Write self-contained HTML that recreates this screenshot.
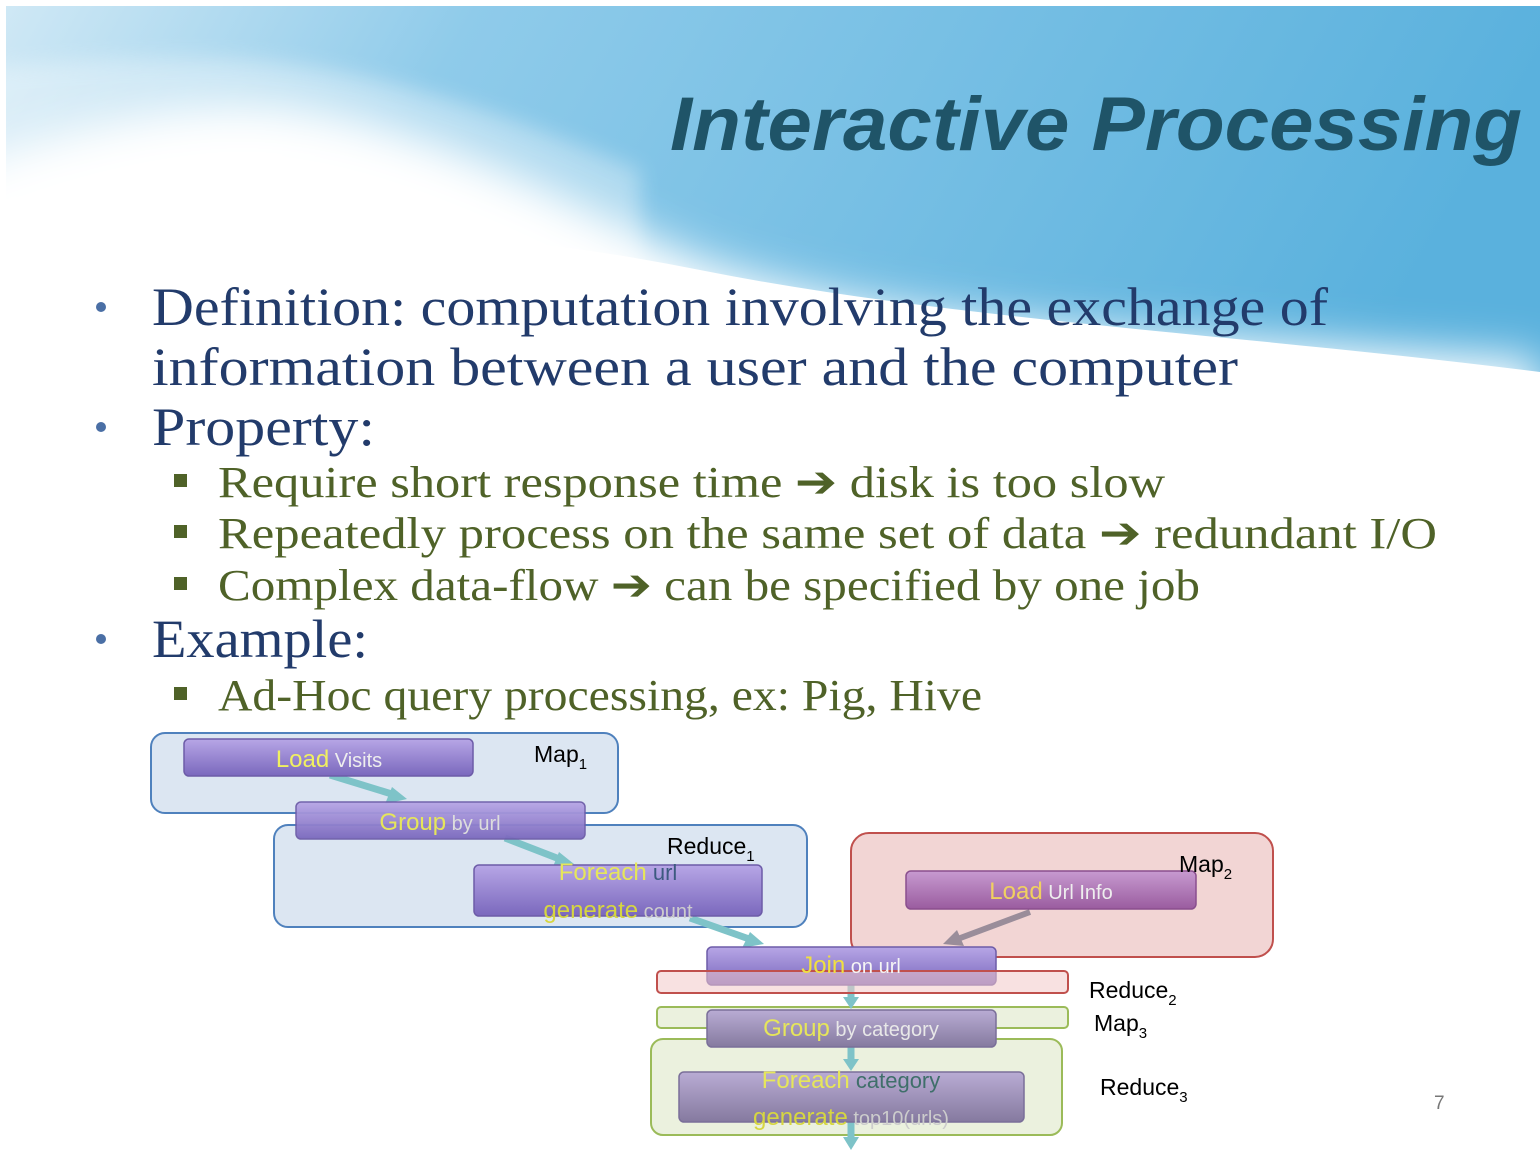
<!DOCTYPE html>
<html><head><meta charset="utf-8"><style>
html,body{margin:0;padding:0;background:#fff}
svg{display:block}
</style></head><body>
<svg width="1540" height="1155" viewBox="0 0 1540 1155" xmlns="http://www.w3.org/2000/svg">
<defs>
<linearGradient id="sky" x1="0" y1="0" x2="1" y2="0.15">
<stop offset="0" stop-color="#cfe8f5"/><stop offset="0.3" stop-color="#8fcbea"/><stop offset="1" stop-color="#5ab1dd"/>
</linearGradient>
<filter id="blur" x="-20%" y="-30%" width="140%" height="160%"><feGaussianBlur stdDeviation="22"/></filter>
<filter id="blur2" x="-20%" y="-30%" width="140%" height="160%"><feGaussianBlur stdDeviation="10"/></filter>
<linearGradient id="pur" x1="0" y1="0" x2="0" y2="1">
<stop offset="0" stop-color="#b7a6e6"/><stop offset="1" stop-color="#7a68bd"/>
</linearGradient>
<linearGradient id="mag" x1="0" y1="0" x2="0" y2="1">
<stop offset="0" stop-color="#c79ad0"/><stop offset="1" stop-color="#9a5c9f"/>
</linearGradient>
<linearGradient id="gp" x1="0" y1="0" x2="0" y2="1">
<stop offset="0" stop-color="#b9acd4"/><stop offset="1" stop-color="#857a9f"/>
</linearGradient>
</defs>
<rect x="6" y="6" width="1534" height="400" fill="url(#sky)"/>
<path d="M-100,80 C0,62 150,55 230,58 C380,65 520,120 640,170 L640,400 L-100,400Z" fill="#fff" opacity="0.35" filter="url(#blur2)"/>
<path d="M-100,200 C0,140 170,100 260,105 C420,115 560,200 700,260 C900,330 1150,330 1540,360 L1540,600 L-100,600Z" fill="#fff" filter="url(#blur)"/>
<path d="M6,240 C200,215 450,220 700,270 C950,320 1250,335 1540,372 L1540,600 L6,600Z" fill="#fff"/>
<rect x="0" y="400" width="1540" height="755" fill="#fff"/>
<rect x="0" y="0" width="1540" height="6" fill="#fff"/>
<rect x="0" y="0" width="6" height="1155" fill="#fff"/>

<text x="670" y="150" font-family="Liberation Sans, sans-serif" font-weight="bold" font-style="italic" font-size="76" fill="#1f5468" textLength="852" lengthAdjust="spacingAndGlyphs">Interactive Processing</text>

<g font-family="Liberation Serif, serif">
<g fill="#223b6b" font-size="54">
<circle cx="101" cy="307" r="5" fill="#4a6fa5"/>
<text x="152" y="325" textLength="1176" lengthAdjust="spacingAndGlyphs">Definition: computation involving the exchange of</text>
<text x="152" y="385" textLength="1086" lengthAdjust="spacingAndGlyphs">information between a user and the computer</text>
<circle cx="101" cy="427" r="5" fill="#4a6fa5"/>
<text x="152" y="445" textLength="223" lengthAdjust="spacingAndGlyphs">Property:</text>
<circle cx="101" cy="639" r="5" fill="#4a6fa5"/>
<text x="152" y="657" textLength="216" lengthAdjust="spacingAndGlyphs">Example:</text>
</g>
<g fill="#4f6228" font-size="44">
<rect x="174" y="474" width="13" height="13"/>
<text x="218" y="497" textLength="947" lengthAdjust="spacingAndGlyphs">Require short response time <tspan font-family="DejaVu Sans" font-weight="bold">➔</tspan> disk is too slow</text>
<rect x="174" y="525" width="13" height="13"/>
<text x="218" y="548" textLength="1219" lengthAdjust="spacingAndGlyphs">Repeatedly process on the same set of data <tspan font-family="DejaVu Sans" font-weight="bold">➔</tspan> redundant I/O</text>
<rect x="174" y="577" width="13" height="13"/>
<text x="218" y="600" textLength="982" lengthAdjust="spacingAndGlyphs">Complex data-flow <tspan font-family="DejaVu Sans" font-weight="bold">➔</tspan> can be specified by one job</text>
<rect x="174" y="687" width="13" height="13"/>
<text x="218" y="710" textLength="764" lengthAdjust="spacingAndGlyphs">Ad-Hoc query processing, ex: Pig, Hive</text>
</g>
</g>

<rect x="151" y="733" width="467" height="80" rx="14" fill="#dce6f2" stroke="#4f81bd" stroke-width="2"/>
<rect x="274" y="825" width="533" height="102" rx="14" fill="#dce6f2" stroke="#4f81bd" stroke-width="2"/>
<rect x="851" y="833" width="422" height="124" rx="18" fill="#f2d5d4" stroke="#c0504d" stroke-width="2"/>
<rect x="651" y="1039" width="411" height="96" rx="12" fill="#ebf1de" stroke="#9bbb59" stroke-width="2"/>
<rect x="657" y="1007" width="411" height="21" rx="4" fill="#ebf1de" stroke="#9bbb59" stroke-width="2"/>

<g stroke="#7ec3c8" stroke-width="7" fill="#7ec3c8">
<line x1="330" y1="775" x2="395" y2="795"/>
<line x1="505" y1="838" x2="562" y2="860"/>
<line x1="690" y1="918" x2="752" y2="940"/>
<line x1="851" y1="985" x2="851" y2="1000"/>
<line x1="851" y1="1047" x2="851" y2="1062"/>
<line x1="851" y1="1122" x2="851" y2="1140"/>
</g>
<g fill="#7ec3c8">
<polygon points="407,799 385,804 392,787"/>
<polygon points="574,864 552,869 559,852"/>
<polygon points="764,944 742,948 750,932"/>
<polygon points="843,997 859,997 851,1009"/>
<polygon points="843,1059 859,1059 851,1071"/>
<polygon points="843,1137 859,1137 851,1150"/>
</g>
<line x1="1030" y1="912" x2="955" y2="940" stroke="#9a8d9a" stroke-width="6"/>
<polygon points="943,944 957,930 964,946" fill="#9a8d9a"/>

<g stroke-width="1.5">
<rect x="184" y="739" width="289" height="37" rx="5" fill="url(#pur)" stroke="#6d5ca8"/>
<rect x="296" y="802" width="289" height="37" rx="5" fill="url(#pur)" stroke="#6d5ca8" opacity="0.95"/>
<rect x="474" y="865" width="288" height="51" rx="5" fill="url(#pur)" stroke="#6d5ca8"/>
<rect x="906" y="871" width="290" height="38" rx="5" fill="url(#mag)" stroke="#8a4f8e"/>
<rect x="707" y="947" width="289" height="38" rx="5" fill="url(#pur)" stroke="#6d5ca8"/>
<rect x="707" y="1010" width="289" height="37" rx="5" fill="url(#gp)" stroke="#7a6f99"/>
<rect x="679" y="1072" width="345" height="50" rx="5" fill="url(#gp)" stroke="#7a6f99"/>
</g>
<rect x="657" y="971" width="411" height="22" rx="4" fill="#f2c9c8" fill-opacity="0.55" stroke="#c0504d" stroke-width="2"/>

<g font-family="Liberation Sans, sans-serif" font-size="22" text-anchor="middle">
<text x="329" y="767"><tspan fill="#f0f060" font-size="24">Load</tspan><tspan fill="#eee" font-size="20"> Visits</tspan></text>
<text x="440" y="830"><tspan fill="#e6e65a" font-size="24">Group</tspan><tspan fill="#ddd" font-size="20"> by url</tspan></text>
<text x="618" y="880"><tspan fill="#e6e65a" font-size="24">Foreach</tspan><tspan fill="#3d5a80" font-size="22"> url</tspan></text>
<text x="618" y="918"><tspan fill="#d6d640" font-size="24">generate</tspan><tspan fill="#ccc" font-size="20"> count</tspan></text>
<text x="1051" y="899"><tspan fill="#f0d060" font-size="24">Load</tspan><tspan fill="#eee" font-size="20"> Url Info</tspan></text>
<text x="851" y="973"><tspan fill="#f0e040" font-size="24">Join</tspan><tspan fill="#f5f5f5" font-size="20"> on url</tspan></text>
<text x="851" y="1036"><tspan fill="#e6e65a" font-size="24">Group</tspan><tspan fill="#e8e8e8" font-size="20"> by category</tspan></text>
<text x="851" y="1088"><tspan fill="#e6e65a" font-size="24">Foreach</tspan><tspan fill="#3f6f6a" font-size="22"> category</tspan></text>
<text x="851" y="1125"><tspan fill="#d6d640" font-size="24">generate</tspan><tspan fill="#ccc" font-size="20"> top10(urls)</tspan></text>
</g>

<g font-family="Liberation Sans, sans-serif" font-size="23" fill="#000">
<text x="534" y="762">Map<tspan font-size="15" dy="7">1</tspan></text>
<text x="667" y="854">Reduce<tspan font-size="15" dy="7">1</tspan></text>
<text x="1179" y="872">Map<tspan font-size="15" dy="7">2</tspan></text>
<text x="1089" y="998">Reduce<tspan font-size="15" dy="7">2</tspan></text>
<text x="1094" y="1031">Map<tspan font-size="15" dy="7">3</tspan></text>
<text x="1100" y="1095">Reduce<tspan font-size="15" dy="7">3</tspan></text>
</g>
<text x="1434" y="1109" font-family="Liberation Sans, sans-serif" font-size="19" fill="#777">7</text>
</svg>
</body></html>
